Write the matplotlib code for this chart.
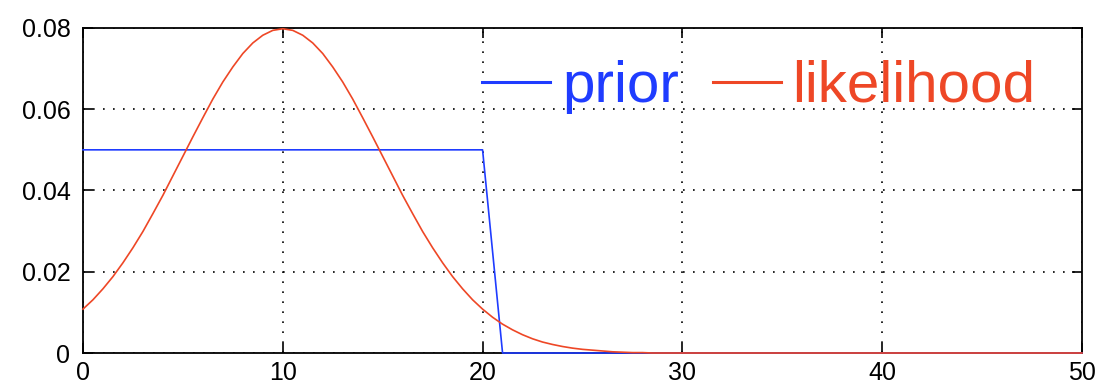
import numpy as np
import matplotlib.pyplot as plt
from matplotlib.lines import Line2D

# prior: integer grid, flat 0.05 on [0, 20], zero from 21 on
x_prior = np.arange(0, 51)
prior = [0.05] * 21 + [0.0] * 30

# likelihood on a half-step grid from 0 to 30, then 0 out to 50
x_lik = np.append(np.arange(0, 30.5, 0.5), 50)
likelihood = [
    0.0108, 0.0131, 0.0158, 0.0188, 0.0222, 0.0259, 0.0299, 0.0343, 0.0388, 0.0436,
    0.0484, 0.0532, 0.0579, 0.0625, 0.0667, 0.0704, 0.0737, 0.0763, 0.0782, 0.0794,
    0.0798, 0.0794, 0.0782, 0.0763, 0.0737, 0.0704, 0.0667, 0.0625, 0.0579, 0.0532,
    0.0484, 0.0436, 0.0388, 0.0343, 0.0299, 0.0259, 0.0222, 0.0188, 0.0158, 0.0131,
    0.0108, 0.0088, 0.0071, 0.0057, 0.0045, 0.0035, 0.0027, 0.0021, 0.0016, 0.0012,
    0.0009, 0.0007, 0.0005, 0.0003, 0.0002, 0.0001, 0.0001, 0.0, 0.0, 0.0,
    0.0, 0.0,
]

xticks = [0, 10, 20, 30, 40, 50]
yticks = [0, 0.02, 0.04, 0.06, 0.08]
ytick_labels = ["0", "0.02", "0.04", "0.06", "0.08"]

BLUE = "#1f3cff"
RED = "#ee4726"

plt.rcParams["font.family"] = ["Liberation Sans", "DejaVu Sans"]

fig = plt.figure(figsize=(10.99, 3.88), dpi=100)
ax = fig.add_axes([0.0755, 0.0902, 0.909, 0.8378])

ax.plot(x_prior, prior, color=BLUE, lw=1.2, zorder=3, clip_on=False)
ax.plot(x_lik, likelihood, color=RED, lw=1.2, zorder=3, clip_on=False)

ax.set_xlim(0, 50)
ax.set_ylim(0, 0.08)
ax.set_xticks(xticks)
ax.set_yticks(yticks)
ax.set_yticklabels(ytick_labels)
ax.tick_params(direction="in", length=7, width=1.2, top=True, right=True,
               labelsize=18)
ax.tick_params(axis="x", pad=6)
ax.tick_params(axis="y", pad=9)
for s in ax.spines.values():
    s.set_linewidth(1.3)
ax.grid(True, color="black", linestyle=(0, (1, 5)), linewidth=1.2)

handles = [Line2D([], [], color=BLUE, lw=2.2), Line2D([], [], color=RED, lw=2.2)]
leg = fig.legend(handles, ["prior", "likelihood"], ncol=2, frameon=False,
                 fontsize=42, loc="center left",
                 bbox_to_anchor=(482 / 1099, 1 - 87 / 388),
                 borderpad=0, borderaxespad=0, handlelength=1.17,
                 handletextpad=0.2, columnspacing=0.58)
for t, c in zip(leg.get_texts(), [BLUE, RED]):
    t.set_color(c)

fig.savefig("out.png", dpi=100)
